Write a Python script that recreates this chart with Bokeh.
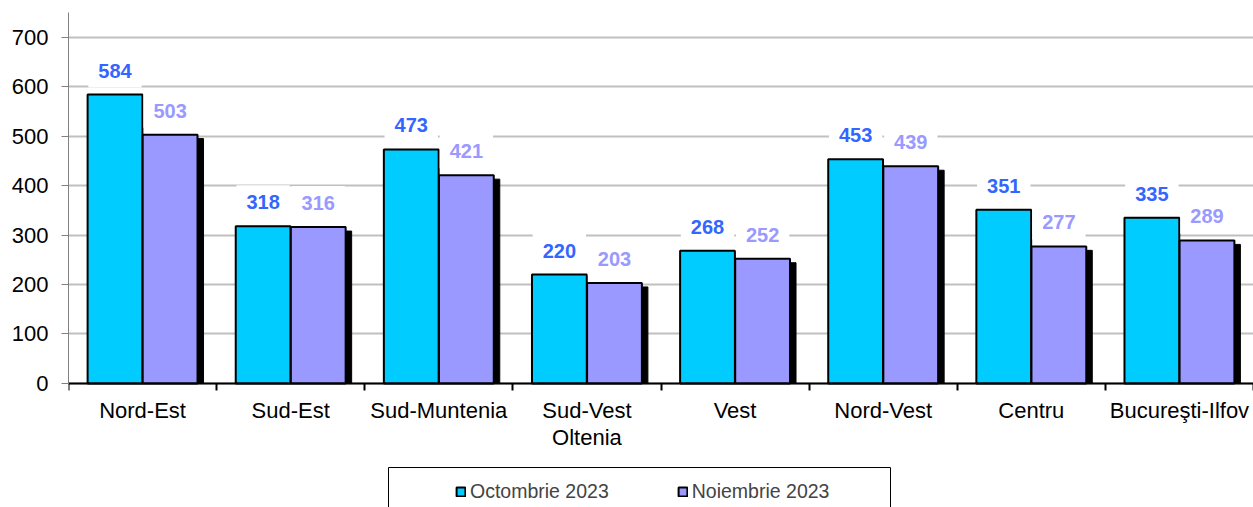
import numpy as np
from bokeh.plotting import figure
from bokeh.models import (ColumnDataSource, Range1d, FixedTicker, Legend, LegendItem,
                          BoxAnnotation)
from bokeh.transform import dodge
from bokeh.core.properties import value
from bokeh.embed import file_html
from bokeh.resources import INLINE

# ---- data ----
regions = ["Nord-Est", "Sud-Est", "Sud-Muntenia", "Sud-Vest\nOltenia", "Vest",
           "Nord-Vest", "Centru", "Bucureşti-Ilfov"]
oct_2023 = [584, 318, 473, 220, 268, 453, 351, 335]
nov_2023 = [503, 316, 421, 203, 252, 439, 277, 289]
series_names = ["Octombrie 2023", "Noiembrie 2023"]
y_ticks = [0, 100, 200, 300, 400, 500, 600, 700]

# ---- styles ----
FONT = "Liberation Sans"
C_OCT = "#00ccff"
C_NOV = "#9999ff"
L_OCT = "#3366ff"
L_NOV = "#9999ff"
BAR_W = 0.37
OFF = 0.186
SHADOW_DX = 0.0405
SHADOW_DY = 8

n = len(regions)
centers = np.arange(n) + 0.5
src = ColumnDataSource(dict(
    center=centers,
    oct=oct_2023,
    nov=nov_2023,
    nov_shadow=np.array(nov_2023) - SHADOW_DY,
    oct_lbl=[str(v) for v in oct_2023],
    nov_lbl=[str(v) for v in nov_2023],
))

# frame spans the full height; the value axis sits at y=0 inside it
p = figure(width=1253, height=507, output_backend="svg", toolbar_location=None,
           x_range=Range1d(0, n), y_range=Range1d(-251, 750),
           min_border_left=68, min_border_right=0, min_border_top=12, min_border_bottom=0)
p.outline_line_color = None
p.background_fill_color = "white"

# shadow of second series
p.vbar(x=dodge("center", OFF + SHADOW_DX), top="nov_shadow", bottom=0, width=BAR_W,
       source=src, fill_color="black", line_color="black", line_width=1)
r_oct = p.vbar(x=dodge("center", -OFF), top="oct", bottom=0, width=BAR_W, source=src,
               fill_color=C_OCT, line_color="black", line_width=2)
r_nov = p.vbar(x=dodge("center", OFF), top="nov", bottom=0, width=BAR_W, source=src,
               fill_color=C_NOV, line_color="black", line_width=2)

for col, lbl, colr in [("oct", "oct_lbl", L_OCT), ("nov", "nov_lbl", L_NOV)]:
    dx = -OFF if col == "oct" else OFF
    p.text(x=dodge("center", dx), y=col, text=lbl, source=src,
           text_align="center", text_baseline="middle", y_offset=-24,
           text_font=value(FONT), text_font_style="bold", text_font_size="20px",
           text_color=colr, background_fill_color="white", padding=10)

# grid
p.xgrid.grid_line_color = None
p.ygrid.ticker = FixedTicker(ticks=y_ticks)
p.ygrid.grid_line_color = "#c0c0c0"
p.ygrid.grid_line_width = 2

# y axis
ya = p.yaxis[0]
ya.ticker = FixedTicker(ticks=y_ticks)
ya.bounds = (0, 750)
ya.axis_line_color = "#808080"
ya.axis_line_width = 1
ya.major_tick_line_color = "#808080"
ya.major_tick_out = 7
ya.major_tick_in = 0
ya.minor_tick_line_color = None
ya.major_label_standoff = 13
ya.major_label_text_font = FONT
ya.major_label_text_font_size = "22px"
ya.major_label_text_color = "black"

# x axis (category axis drawn at y = 0)
xa = p.xaxis[0]
xa.fixed_location = 0
xa.ticker = FixedTicker(ticks=list(centers), minor_ticks=list(np.arange(n + 1)))
xa.major_label_overrides = {float(c): r for c, r in zip(centers, regions)}
xa.axis_line_color = "black"
xa.axis_line_width = 2
xa.major_tick_line_color = None
xa.major_tick_out = 0
xa.major_tick_in = 0
xa.minor_tick_line_color = "black"
xa.minor_tick_line_width = 2
xa.minor_tick_out = 7
xa.minor_tick_in = 0
xa.major_label_standoff = 8
xa.major_label_text_font = FONT
xa.major_label_text_font_size = "22px"
xa.major_label_text_line_height = 1.08
xa.major_label_text_color = "black"

# legend
legend = Legend(items=[LegendItem(label=series_names[0], renderers=[r_oct]),
                       LegendItem(label=series_names[1], renderers=[r_nov])],
                location=(387, 4), orientation="horizontal", spacing=68, padding=14,
                margin=0, glyph_width=11, glyph_height=11, label_standoff=4,
                label_text_font=FONT, label_text_font_size="19.5px",
                border_line_color=None, background_fill_alpha=0)
p.add_layout(legend)

box = BoxAnnotation(left=388, right=890, top=467, bottom=530,
                    left_units="canvas", right_units="canvas",
                    top_units="canvas", bottom_units="canvas",
                    fill_alpha=0, line_color="black", line_width=1, line_alpha=1)
p.add_layout(box)

open("out.html", "w").write(file_html(p, INLINE))
